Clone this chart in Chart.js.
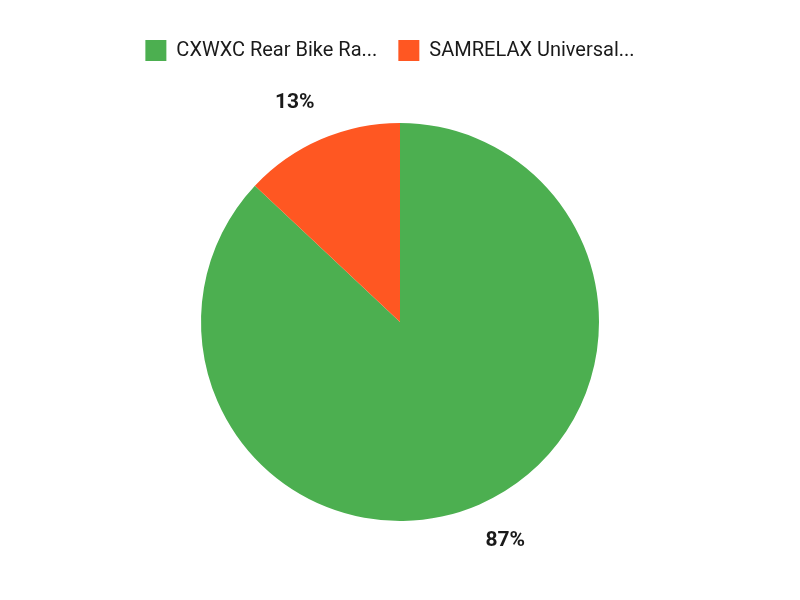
<!DOCTYPE html>
<html>
<head>
<meta charset="utf-8">
<script src="https://cdn.jsdelivr.net/npm/chart.js@4"></script>
<style>
  html, body { margin: 0; padding: 0; background: #fff; }
  #wrap { width: 800px; height: 600px; }
</style>
</head>
<body>
<div id="wrap"><canvas id="myChart01"></canvas></div>
<script>
// data
var categories = ['CXWXC Rear Bike Ra...', 'SAMRELAX Universal...'];
var shares = [87, 13];
var sliceColors = ['#4CAF50', '#FF5722'];

// percent labels outside the slices
var outsideLabels = {
    id: 'outsideLabels',
    afterDatasetsDraw: function (chart) {
        var ctx = chart.ctx;
        var meta = chart.getDatasetMeta(0);
        var total = shares.reduce(function (a, b) { return a + b; }, 0);
        ctx.save();
        ctx.font = 'bold 21px Roboto';
        ctx.fillStyle = '#1a1a1a';
        ctx.textAlign = 'center';
        ctx.textBaseline = 'middle';
        meta.data.forEach(function (arc, i) {
            var p = arc.getProps(['x', 'y', 'startAngle', 'endAngle', 'outerRadius'], true);
            var mid = (p.startAngle + p.endAngle) / 2 - 0.04;
            var r = p.outerRadius * 1.22;
            var txt = Math.round(shares[i] / total * 100) + '%';
            ctx.fillText(txt, p.x + Math.cos(mid) * r, p.y + Math.sin(mid) * r);
        });
        ctx.restore();
    }
};

// room between legend and pie, legend a bit left of centre
var legendGap = {
    id: 'legendGap',
    afterInit: function (chart) {
        var fit = chart.legend.fit;
        chart.legend.fit = function () {
            fit.bind(chart.legend)();
            this.height = 104;
            this.lineWidths[0] += 20;
        };
    }
};

var ctx01 = document.getElementById('myChart01');
var chart01 = new Chart(ctx01, {
    type: 'pie',
    data: {
        labels: categories,
        datasets: [{
            data: shares,
            backgroundColor: sliceColors,
            borderWidth: 0
        }]
    },
    options: {
        responsive: true,
        maintainAspectRatio: false,
        animation: false,
        layout: { padding: { top: 19, bottom: 79 } },
        plugins: {
            legend: {
                position: 'top',
                labels: {
                    boxWidth: 21,
                    boxHeight: 21,
                    padding: 21,
                    color: '#1a1a1a',
                    font: { family: 'Roboto', size: 20 }
                }
            },
            tooltip: { enabled: false }
        }
    },
    plugins: [outsideLabels, legendGap]
});
</script>
</body>
</html>
